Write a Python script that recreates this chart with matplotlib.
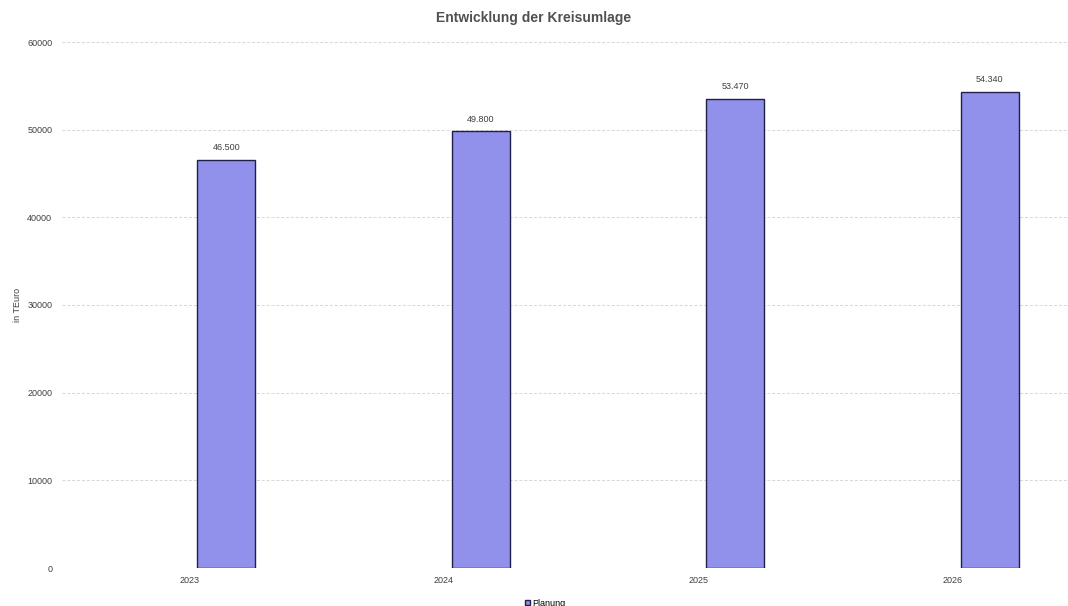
import matplotlib.pyplot as plt
import numpy as np

years = ['2023', '2024', '2025', '2026']
planung = [46500, 49800, 53470, 54340]
value_labels = ['46.500', '49.800', '53.470', '54.340']

plt.rcParams['font.family'] = ['Liberation Sans', 'DejaVu Sans']

fig = plt.figure(figsize=(10.68, 6.06), dpi=100)
ax = fig.add_axes([62 / 1068, 38 / 606, 1018 / 1068, 526 / 606])

x = np.arange(len(years))
bars = ax.bar(x + 0.145, planung, width=0.228, color='#9191ec',
              edgecolor='#1f1f4a', linewidth=1.0, label='Planung', zorder=3)

for b, lab in zip(bars, value_labels):
    ax.text(b.get_x() + b.get_width() / 2, b.get_height() + 900, lab,
            ha='center', va='bottom', fontsize=6.5, color='#404040')

ax.set_xlim(-0.5, 3.5)
ax.set_ylim(0, 60000)
ax.set_yticks(np.arange(0, 60001, 10000))
ax.set_xticks(x)
ax.set_xticklabels(years)
ax.tick_params(axis='both', length=0, labelsize=6.5, labelcolor='#404040')
ax.tick_params(axis='y', pad=7)
ax.tick_params(axis='x', pad=6)
ax.grid(axis='y', color='#d6d6d6', linestyle=(0, (3, 2)), linewidth=0.7, zorder=0)
for s in ax.spines.values():
    s.set_visible(False)

ax.set_ylabel('in TEuro', fontsize=6.5, color='#404040', labelpad=4)
fig.suptitle('Entwicklung der Kreisumlage', fontsize=10, fontweight='bold',
             color='#505050', y=0.982)
fig.legend(handles=[bars], labels=['Planung'], loc='lower center',
           bbox_to_anchor=(545 / 1068, -0.016), frameon=False, fontsize=6.5,
           handlelength=0.6, handleheight=0.6, handletextpad=0.2)

fig.savefig('out.png', dpi=100)
